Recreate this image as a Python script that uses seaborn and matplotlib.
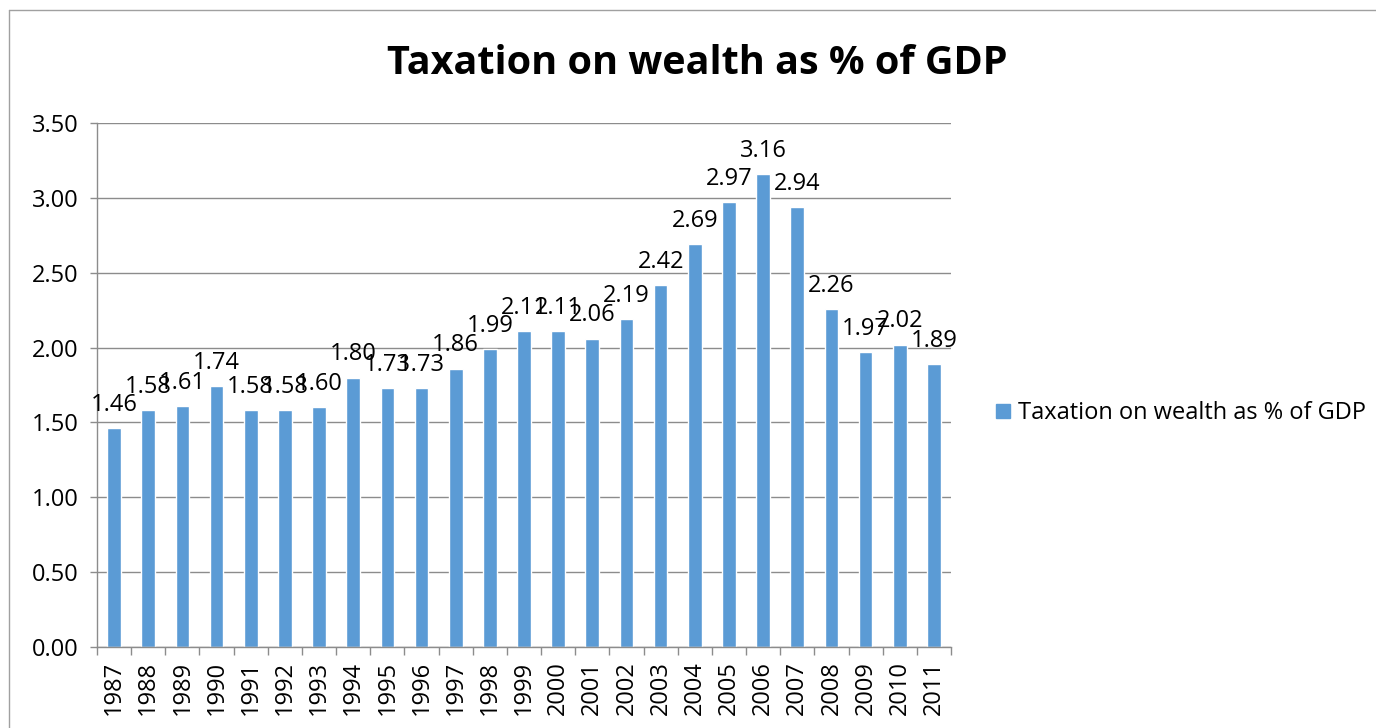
import matplotlib
matplotlib.use("Agg")
import matplotlib.pyplot as plt
import seaborn as sns
import pandas as pd
from matplotlib.lines import Line2D
from matplotlib.ticker import MultipleLocator, FixedLocator, FormatStrFormatter

years = [str(y) for y in range(1987, 2012)]
values = [1.46, 1.58, 1.61, 1.74, 1.58, 1.58, 1.60, 1.80, 1.73, 1.73,
          1.86, 1.99, 2.11, 2.11, 2.06, 2.19, 2.42, 2.69, 2.97, 3.16,
          2.94, 2.26, 1.97, 2.02, 1.89]
series_name = "Taxation on wealth as % of GDP"
title = "Taxation on wealth as % of GDP"

sns.set_theme(style="white")
plt.rcParams["font.family"] = ["Open Sans", "DejaVu Sans"]
plt.rcParams["text.color"] = "black"
plt.rcParams["xtick.color"] = "black"
plt.rcParams["ytick.color"] = "black"

bar_color = "#5B9BD5"
grid_color = "#8C8C8C"
fs = 17

df = pd.DataFrame({"year": years, "value": values})

fig = plt.figure(figsize=(13.76, 7.28), dpi=100)
ax = fig.add_axes([97 / 1376, 81 / 728, 854 / 1376, 524 / 728])

sns.barplot(data=df, x="year", y="value", color=bar_color, width=0.4,
            saturation=1, ax=ax)

ax.set_ylim(0, 3.5)
ax.set_xlim(-0.5, len(years) - 0.5)
ax.yaxis.set_major_locator(MultipleLocator(0.5))
ax.yaxis.set_major_formatter(FormatStrFormatter("%.2f"))
ax.grid(axis="y", color=grid_color, linewidth=1)
ax.set_axisbelow(True)
ax.set_xlabel("")
ax.set_ylabel("")

for side in ("top", "right"):
    ax.spines[side].set_visible(False)
for side in ("left", "bottom"):
    ax.spines[side].set_color(grid_color)
    ax.spines[side].set_linewidth(1)

ax.tick_params(axis="y", which="major", length=5, width=1, color=grid_color,
               labelcolor="black", direction="out", labelsize=fs, pad=8,
               left=True)
ax.tick_params(axis="x", which="major", length=0, labelsize=fs,
               labelcolor="black", labelrotation=90, pad=10)
ax.xaxis.set_minor_locator(FixedLocator([i - 0.5 for i in range(len(years) + 1)]))
ax.tick_params(axis="x", which="minor", length=6, width=1, color=grid_color,
               direction="out", bottom=True)

ax.bar_label(ax.containers[0], labels=[f"{v:.2f}" for v in values],
             padding=8, fontsize=fs, color="black")

fig.text(0.507, 1 - 64 / 728, title, ha="center", va="center",
         fontsize=28.5, fontweight="bold", color="black")

handle = Line2D([], [], marker="s", linestyle="none", markersize=10,
                markerfacecolor=bar_color, markeredgecolor=bar_color)
fig.legend([handle], [series_name], loc="center left",
           bbox_to_anchor=(975 / 1376, 1 - 413 / 728), frameon=False,
           fontsize=fs, handlelength=0.6, handletextpad=0.3,
           labelcolor="black")

# outer chart frame (top and left edges)
fig.add_artist(Line2D([9 / 1376, 1], [1 - 10 / 728, 1 - 10 / 728],
                      transform=fig.transFigure, color="#A0A0A0", linewidth=1))
fig.add_artist(Line2D([9 / 1376, 9 / 1376], [0, 1 - 10 / 728],
                      transform=fig.transFigure, color="#A0A0A0", linewidth=1))

fig.savefig("out.png", dpi=100)
